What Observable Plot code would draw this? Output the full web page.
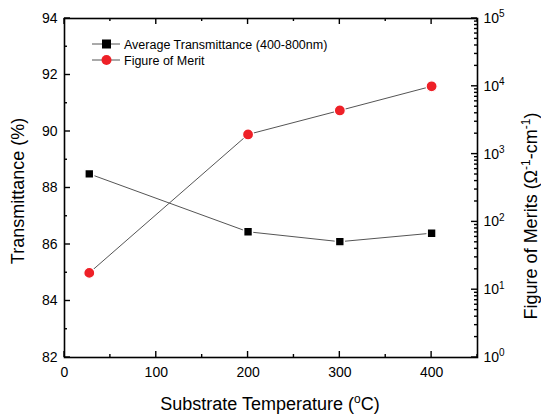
<!DOCTYPE html>
<html><head><meta charset="utf-8">
<script src="https://cdn.jsdelivr.net/npm/d3@7"></script>
<script src="https://cdn.jsdelivr.net/npm/@observablehq/plot@0.6"></script>
<style>
body{margin:0;background:#fff;font-family:"Liberation Sans",Arial,sans-serif}
#chart{position:relative;width:541px;height:417px;background:#fff}
#chart > svg{position:absolute;left:0;top:0}
</style></head><body><div id="chart"></div>
<script>
// ---- data ----
const temperatures = [27, 200, 300, 400];
const transmittance = [88.5, 86.45, 86.1, 86.4];
const figureOfMerit = [17.7, 1950, 4400, 10000];
const xTicks = [0, 100, 200, 300, 400];
const xMinorTicks = [50, 150, 250, 350, 450];
const yTicks = [82, 84, 86, 88, 90, 92, 94];
const yMinorTicks = [83, 85, 87, 89, 91, 93];
const fomTicks = [1, 10, 100, 1000, 10000, 100000];
const fomMinorTicks = [2,3,4,5,6,7,8,9,20,30,40,50,60,70,80,90,200,300,400,500,600,700,800,900,2000,3000,4000,5000,6000,7000,8000,9000,20000,30000,40000,50000,60000,70000,80000,90000];
const seriesNames = ["Average Transmittance (400-800nm)", "Figure of Merit"];

const transData = temperatures.map((t, i) => ({t, v: transmittance[i]}));
const fomData = temperatures.map((t, i) => ({t, v: figureOfMerit[i]}));

const W = 541, H = 417;
const M = {l: 64, r: 64, t: 18, b: 60};
const common = {
  width: W, height: H,
  marginLeft: M.l, marginRight: M.r, marginTop: M.t, marginBottom: M.b,
  style: {fontFamily: "Liberation Sans, Arial, sans-serif", fontSize: "14px", background: "transparent", color: "#000"}
};
const RED = "#ee2027";
const TW = 1.4;
const MAJ = 6, MIN = 3;

const p1 = Plot.plot({
  ...common,
  x: {domain: [0, 450]},
  y: {domain: [82, 94]},
  marks: [
    Plot.axisX({anchor: "bottom", ticks: xTicks, tickSize: 0, tickPadding: 10, label: null}),
    Plot.axisY({anchor: "left", ticks: yTicks, tickSize: 0, tickPadding: 7, label: null}),
    Plot.line(transData, {x: "t", y: "v", stroke: "#555", strokeWidth: 1}),
    Plot.dot(transData, {x: "t", y: "v", symbol: "square", r: 5, fill: "#000", stroke: "#fff", strokeWidth: 1.5}),
    Plot.frame({stroke: "#000", strokeWidth: 1.6})
  ]
});

const p2 = Plot.plot({
  ...common,
  x: {domain: [0, 450], axis: null},
  y: {type: "log", domain: [1, 100000]},
  marks: [
    Plot.axisY({anchor: "right", ticks: fomTicks, tickSize: 0, tickPadding: 6, tickFormat: d => String(Math.round(Math.log10(d))), label: null}),
    Plot.line(fomData, {x: "t", y: "v", stroke: "#555", strokeWidth: 1}),
    Plot.dot(fomData, {x: "t", y: "v", r: 5.5, fill: RED, stroke: "#fff", strokeWidth: 1.2})
  ]
});

const chart = document.getElementById("chart");
chart.appendChild(p1);
chart.appendChild(p2);

// superscript powers on right axis
d3.select(p2).selectAll('g[aria-label="y-axis tick label"] text').each(function() {
  const e = d3.select(this);
  const pow = e.text();
  if (pow === "") return;
  e.text("10");
  e.append("tspan").attr("dy", "-0.55em").attr("font-size", "10px").text(pow);
});

// overlay: inward ticks (positions from Plot's scales), titles and legend
const font = "Liberation Sans, Arial, sans-serif";
const s = d3.select(chart).append("svg").attr("width", W).attr("height", H)
  .attr("font-family", font).attr("fill", "#000");

const sx = p1.scale("x"), sy = p1.scale("y"), sf = p2.scale("y");
const X = v => sx.apply(v), Y = v => sy.apply(v), F = v => sf.apply(v);
const x0 = M.l, x1 = W - M.r, y0 = M.t, y1 = H - M.b;
const tk = s.append("g").attr("stroke", "#000").attr("stroke-width", TW);
xTicks.forEach(v => {
  tk.append("line").attr("x1", X(v)).attr("x2", X(v)).attr("y1", y1).attr("y2", y1 - MAJ);
  tk.append("line").attr("x1", X(v)).attr("x2", X(v)).attr("y1", y0).attr("y2", y0 + MAJ);
});
xMinorTicks.forEach(v => {
  tk.append("line").attr("x1", X(v)).attr("x2", X(v)).attr("y1", y1).attr("y2", y1 - MIN);
  tk.append("line").attr("x1", X(v)).attr("x2", X(v)).attr("y1", y0).attr("y2", y0 + MIN);
});
yTicks.forEach(v => tk.append("line").attr("x1", x0).attr("x2", x0 + MAJ).attr("y1", Y(v)).attr("y2", Y(v)));
yMinorTicks.forEach(v => tk.append("line").attr("x1", x0).attr("x2", x0 + MIN).attr("y1", Y(v)).attr("y2", Y(v)));
fomTicks.forEach(v => tk.append("line").attr("x1", x1).attr("x2", x1 - MAJ).attr("y1", F(v)).attr("y2", F(v)));
fomMinorTicks.forEach(v => tk.append("line").attr("x1", x1).attr("x2", x1 - MIN).attr("y1", F(v)).attr("y2", F(v)));

s.append("text").attr("transform", "translate(24,191) rotate(-90)").attr("text-anchor", "middle")
  .attr("font-size", 18).text("Transmittance (%)");

const xt = s.append("text").attr("x", 270).attr("y", 410).attr("text-anchor", "middle").attr("font-size", 18);
xt.append("tspan").text("Substrate Temperature (");
xt.append("tspan").attr("dy", -7).attr("font-size", 12).text("o");
xt.append("tspan").attr("dy", 7).text("C)");

const rt = s.append("text").attr("transform", "translate(537,216) rotate(-90)").attr("text-anchor", "middle").attr("font-size", 18);
rt.append("tspan").text("Figure of Merits (Ω");
rt.append("tspan").attr("dy", -7).attr("font-size", 12).text("-1");
rt.append("tspan").attr("dy", 7).text("-cm");
rt.append("tspan").attr("dy", -7).attr("font-size", 12).text("-1");
rt.append("tspan").attr("dy", 7).text(")");

const legendRows = [
  {y: 44, name: seriesNames[0], kind: "square"},
  {y: 60, name: seriesNames[1], kind: "circle"}
];
legendRows.forEach(r => {
  s.append("line").attr("x1", 92).attr("x2", 120).attr("y1", r.y).attr("y2", r.y).attr("stroke", "#555").attr("stroke-width", 1);
  if (r.kind === "square") {
    s.append("rect").attr("x", 102).attr("y", r.y - 4.5).attr("width", 9).attr("height", 9).attr("fill", "#000");
  } else {
    s.append("circle").attr("cx", 106.5).attr("cy", r.y).attr("r", 5).attr("fill", RED);
  }
  s.append("text").attr("x", 124).attr("y", r.y + 4.5).attr("text-anchor", "start").attr("font-size", 12.5).text(r.name);
});
</script></body></html>
